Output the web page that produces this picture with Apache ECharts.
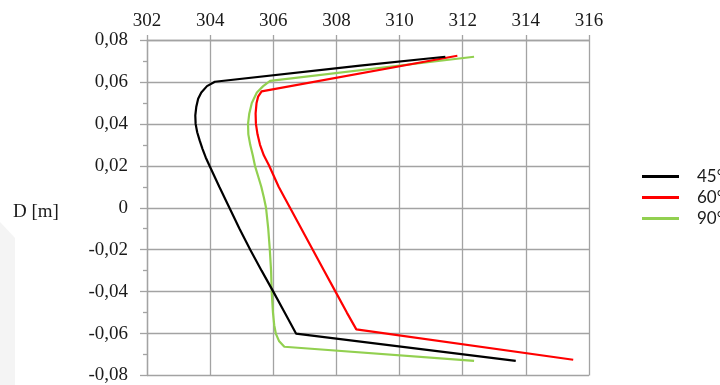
<!DOCTYPE html>
<html>
<head>
<meta charset="utf-8">
<script src="https://cdn.jsdelivr.net/npm/echarts@6/dist/echarts.min.js"></script>
<style>
  html, body { margin: 0; padding: 0; background: #fff; }
  #chart { width: 720px; height: 385px; }
</style>
</head>
<body>
<div id="chart"></div>
<script>
// Profiles of value against depth D for three inclinations
const seriesNames = ['45°', '60°', '90°'];
const seriesColors = ['#000000', '#ff0000', '#92d050'];

const x45 = [311.45, 308.75, 304.15, 303.9, 303.72, 303.62, 303.56, 303.53, 303.54, 303.59, 303.67, 303.76, 303.86, 303.98, 304.29, 304.61, 304.93, 305.27, 305.63, 306.0, 306.36, 306.72, 313.68];
const d45 = [0.072, 0.0678, 0.0601, 0.058, 0.055, 0.052, 0.048, 0.044, 0.040, 0.036, 0.032, 0.028, 0.024, 0.020, 0.010, 0, -0.010, -0.020, -0.030, -0.040, -0.050, -0.060, -0.073];

const x60 = [311.83, 305.63, 305.52, 305.47, 305.44, 305.45, 305.5, 305.58, 305.7, 305.87, 306.17, 306.53, 306.89, 307.25, 307.61, 307.97, 308.33, 308.63, 315.5];
const d60 = [0.0725, 0.0555, 0.053, 0.050, 0.045, 0.040, 0.035, 0.030, 0.025, 0.020, 0.010, 0, -0.010, -0.020, -0.030, -0.040, -0.050, -0.058, -0.0725];

const x90 = [312.36, 305.9, 305.68, 305.48, 305.32, 305.24, 305.2, 305.21, 305.27, 305.35, 305.42, 305.52, 305.62, 305.7, 305.77, 305.84, 305.89, 305.93, 305.95, 305.99, 306.03, 306.08, 306.18, 306.35, 312.36];
const d90 = [0.072, 0.0605, 0.058, 0.055, 0.050, 0.045, 0.040, 0.035, 0.030, 0.025, 0.020, 0.015, 0.010, 0.005, 0, -0.010, -0.020, -0.030, -0.040, -0.050, -0.056, -0.060, -0.0635, -0.0663, -0.073];

const xValues = [x45, x60, x90];
const dValues = [d45, d60, d90];

const xMin = 302, xMax = 316, xStep = 2;
const dMin = -0.08, dMax = 0.08, dStep = 0.02;
const dAxisName = 'D [m]';

const gridColor = '#a3a3a3';
const textColor = '#1a1a1a';
const serif = '"Liberation Serif", "DejaVu Serif", serif';

function pairs(xs, ds) {
  return xs.map((x, i) => [x, ds[i]]);
}

function depthLabel(v) {
  if (Math.abs(v) < 1e-9) return '0';
  return v.toFixed(2).replace('.', ',');
}

const chart = echarts.init(document.getElementById('chart'), null, { renderer: 'canvas' });

chart.setOption({
  animation: false,
  backgroundColor: '#ffffff',
  grid: { left: 147, top: 40, width: 442, height: 336 },
  graphic: [
    {
      type: 'polygon',
      silent: true,
      z: -10,
      shape: { points: [[0, 222], [15, 238], [15, 385], [0, 385]] },
      style: { fill: '#f4f4f4' }
    },
    {
      type: 'text',
      left: 13,
      top: 203,
      style: { text: dAxisName, font: '19px ' + serif, fill: textColor }
    }
  ],
  legend: {
    orient: 'vertical',
    left: 637,
    top: 163,
    itemWidth: 37,
    itemHeight: 3,
    itemGap: 4,
    icon: 'rect',
    textStyle: {
      fontFamily: 'Lato, "Open Sans", sans-serif',
      fontSize: 17,
      color: textColor,
      padding: [0, 0, 0, 13]
    },
    data: seriesNames
  },
  xAxis: {
    type: 'value',
    position: 'top',
    min: xMin,
    max: xMax,
    interval: xStep,
    axisLine: { show: true, onZero: false, lineStyle: { color: gridColor, width: 1.3 } },
    axisTick: { show: true, inside: false, length: 5, lineStyle: { color: gridColor, width: 1.3 } },
    axisLabel: { color: textColor, fontFamily: serif, fontSize: 19, margin: 9 },
    splitLine: { show: true, lineStyle: { color: gridColor, width: 1.3 } }
  },
  yAxis: {
    type: 'value',
    min: dMin,
    max: dMax,
    interval: dStep,
    axisLine: { show: true, onZero: false, lineStyle: { color: gridColor, width: 1.3 } },
    axisTick: { show: true, length: 7, lineStyle: { color: gridColor, width: 1.3 } },
    minorTick: { show: true, splitNumber: 2, length: 4, lineStyle: { color: gridColor, width: 1.3 } },
    axisLabel: { color: textColor, fontFamily: serif, fontSize: 19, margin: 19, formatter: depthLabel },
    splitLine: { show: true, lineStyle: { color: gridColor, width: 1.3 } }
  },
  series: seriesNames.map((name, i) => ({
    name: name,
    type: 'line',
    data: pairs(xValues[i], dValues[i]),
    showSymbol: false,
    symbol: 'none',
    smooth: false,
    clip: false,
    color: seriesColors[i],
    lineStyle: { color: seriesColors[i], width: 2.2 },
    z: 3 - i
  }))
});
</script>
</body>
</html>
